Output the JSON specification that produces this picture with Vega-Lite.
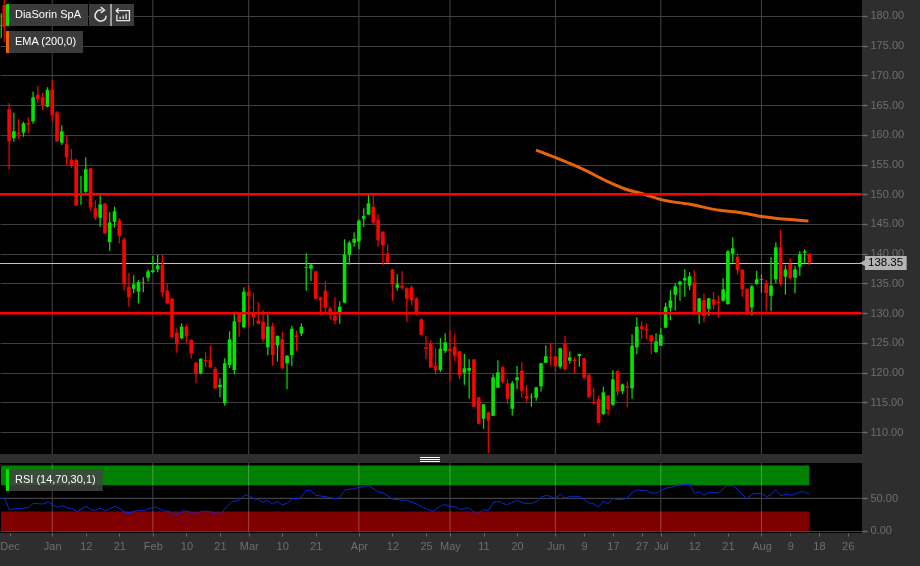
{
"$schema":"https://vega.github.io/schema/vega-lite/v6.json",
"background":"#2e2e2e","padding":{"left":-2,"top":-1,"right":0,"bottom":0},"spacing":9,"bounds":"flush",
"config":{"view":{"stroke":null},"font":"Liberation Sans","concat":{"spacing":9}},
"datasets":{
"months":[{"i":10},{"i":31},{"i":51},{"i":74},{"i":93},{"i":115},{"i":137},{"i":158}],
"levels":[{"i":-0.89,"i2":178.9,"p":150},{"i":-0.89,"i2":178.9,"p":130}],
"last":[{"i":-0.89,"i2":178.9,"p":138.35}],
"tag":[{"i":179.6,"i2":188.3,"p":139.6,"p2":137.26,"pm":138.43,"im":183.9,"it":179.1,"label":"138.35"}],
"boxes":[{"i":0.98,"i2":17.47,"p":182.02,"p2":178.32},{"i":17.67,"i2":27.07,"p":182.02,"p2":178.32},{"i":0.98,"i2":16.42,"p":177.47,"p2":173.77}],
"boxGreen":[{"i":0.35,"i2":0.98,"p":182.02,"p2":178.32}],
"boxOrange":[{"i":0.35,"i2":0.98,"p":177.47,"p2":173.77}],
"captions":[{"i":2.23,"p":180.17,"label":"DiaSorin SpA"},{"i":2.23,"p":175.62,"label":"EMA (200,0)"}],
"divider":[{"i":22.27,"p":182.02,"p2":178.32}],
"iconA":[{"i":20.1,"p":180.05}],
"iconB":[{"i":24.8,"p":180.05}],
"ema":[{"i":110.96,"p":157.45},{"i":114.92,"p":156.22},{"i":120.83,"p":154.2},{"i":125.7,"p":152.23},{"i":130.2,"p":150.72},{"i":133.35,"p":150.05},{"i":136.83,"p":149.15},{"i":143.1,"p":148.31},{"i":149.35,"p":147.3},{"i":152.84,"p":147.02},{"i":158.4,"p":146.23},{"i":163.27,"p":145.79},{"i":167.8,"p":145.5}],
"bandHigh":[{"i":-0.69,"i2":168,"r":100,"r2":70}],
"bandLow":[{"i":-0.69,"i2":168,"r":30,"r2":0}],
"rsiGrid":[{"r":50,"i":-0.89,"i2":178.9}],
"handle":[{"i":86.75,"i2":90.9,"r":112.4},{"i":86.75,"i2":90.9,"r":109.3},{"i":86.75,"i2":90.9,"r":106.3}],
"rsiBox":[{"i":0.98,"i2":20.53,"r":94.3,"r2":61.2}],
"rsiMark":[{"i":0.35,"i2":0.98,"r":94.3,"r2":61.2}],
"rsiCaption":[{"i":2.23,"r":78,"label":"RSI (14,70,30,1)"}],
"rsi":[{"i":-0.7,"r":49.95},{"i":0.15,"r":48.93},{"i":1.05,"r":32.11},{"i":2.23,"r":34.15},{"i":3.28,"r":34.15},{"i":5.02,"r":36.19},{"i":6.06,"r":42.3},{"i":8.15,"r":41.28},{"i":9.19,"r":44.34},{"i":10.93,"r":36.7},{"i":12.11,"r":38.74},{"i":13.36,"r":34.66},{"i":14.06,"r":34.66},{"i":15.24,"r":29.56},{"i":17.05,"r":37.72},{"i":18.23,"r":32.11},{"i":19.07,"r":32.11},{"i":19.97,"r":34.66},{"i":21.08,"r":31.09},{"i":23.1,"r":37.72},{"i":24.14,"r":34.15},{"i":25.19,"r":28.54},{"i":26.23,"r":28.03},{"i":27.62,"r":31.09},{"i":29.36,"r":31.09},{"i":30.06,"r":34.15},{"i":31.8,"r":36.19},{"i":33.19,"r":31.09},{"i":34.23,"r":30.07},{"i":35.62,"r":25.48},{"i":36.32,"r":25.48},{"i":37.22,"r":31.09},{"i":38.75,"r":29.05},{"i":40.14,"r":25.48},{"i":41.18,"r":30.07},{"i":42.58,"r":30.07},{"i":44.66,"r":25.99},{"i":45.36,"r":28.03},{"i":46.4,"r":37.21},{"i":47.59,"r":44.85},{"i":49.05,"r":47.4},{"i":50.23,"r":55.05},{"i":50.93,"r":54.54},{"i":51.97,"r":49.44},{"i":53.01,"r":48.42},{"i":53.92,"r":43.83},{"i":54.96,"r":46.89},{"i":55.93,"r":41.28},{"i":56.98,"r":45.36},{"i":58.02,"r":39.76},{"i":59.06,"r":42.81},{"i":60.11,"r":49.44},{"i":61.71,"r":49.95},{"i":62.96,"r":61.67},{"i":63.79,"r":62.69},{"i":65.04,"r":54.54},{"i":66.92,"r":52.5},{"i":69.01,"r":49.44},{"i":69.92,"r":50.97},{"i":71.1,"r":62.69},{"i":72.14,"r":64.22},{"i":72.98,"r":64.22},{"i":73.88,"r":66.77},{"i":74.92,"r":67.28},{"i":75.97,"r":69.83},{"i":78.05,"r":59.63},{"i":79.1,"r":58.1},{"i":81.04,"r":48.93},{"i":82.58,"r":47.4},{"i":84.11,"r":46.89},{"i":86.05,"r":41.28},{"i":87.44,"r":35.68},{"i":89.53,"r":30.07},{"i":91.27,"r":39.25},{"i":91.97,"r":40.27},{"i":93.01,"r":37.72},{"i":94.05,"r":37.21},{"i":95.1,"r":32.62},{"i":96.84,"r":35.68},{"i":98.23,"r":28.03},{"i":98.93,"r":26.5},{"i":99.97,"r":33.13},{"i":101.01,"r":31.09},{"i":102.06,"r":43.83},{"i":103.1,"r":45.36},{"i":104.84,"r":39.76},{"i":106.58,"r":45.87},{"i":107.27,"r":45.87},{"i":108.66,"r":42.3},{"i":110.06,"r":42.3},{"i":111.24,"r":45.87},{"i":112.14,"r":52.5},{"i":113.32,"r":54.54},{"i":114.92,"r":49.95},{"i":116.11,"r":56.57},{"i":117.01,"r":49.95},{"i":118.06,"r":53.01},{"i":120,"r":53.01},{"i":121.88,"r":43.32},{"i":122.92,"r":41.79},{"i":123.97,"r":36.19},{"i":125.01,"r":45.36},{"i":126.05,"r":41.79},{"i":126.96,"r":49.44},{"i":128.14,"r":47.91},{"i":129.88,"r":49.44},{"i":131.13,"r":59.63},{"i":132.11,"r":62.69},{"i":134.05,"r":61.67},{"i":134.89,"r":58.1},{"i":136.14,"r":58.1},{"i":137.88,"r":65.24},{"i":139.27,"r":67.28},{"i":140.31,"r":69.83},{"i":143.1,"r":71.87},{"i":144,"r":57.08},{"i":145.04,"r":60.14},{"i":146.02,"r":54.54},{"i":147.13,"r":59.12},{"i":149.01,"r":58.1},{"i":150.75,"r":69.32},{"i":152.14,"r":69.32},{"i":154.92,"r":49.44},{"i":156.17,"r":56.57},{"i":158.05,"r":57.59},{"i":159.1,"r":52.5},{"i":159.79,"r":54.54},{"i":160.97,"r":62.69},{"i":162.02,"r":54.03},{"i":163.13,"r":56.57},{"i":164.31,"r":54.54},{"i":166.05,"r":59.63},{"i":166.75,"r":60.14},{"i":168,"r":56.57}],
"candles":[
{"i":-0.63,"o":178.5,"h":180.45,"l":176.25,"c":178.4,"d":"u"},
{"i":0,"o":181.85,"h":182.69,"l":175.67,"c":178.2,"d":"d"},
{"i":1,"o":164.3,"h":165.31,"l":154.2,"c":158.91,"d":"d"},
{"i":2,"o":159.42,"h":163.73,"l":158.85,"c":160.6,"d":"u"},
{"i":3,"o":160.26,"h":162.62,"l":159.25,"c":160.09,"d":"d"},
{"i":4,"o":160.36,"h":162.21,"l":159.69,"c":161.94,"d":"u"},
{"i":5,"o":161.99,"h":162.95,"l":160.26,"c":161.71,"d":"d"},
{"i":6,"o":162.28,"h":167.26,"l":161.88,"c":166.32,"d":"u"},
{"i":7,"o":166.75,"h":168.22,"l":165.31,"c":165.98,"d":"d"},
{"i":8,"o":166.32,"h":167.09,"l":164.18,"c":164.9,"d":"d"},
{"i":9,"o":164.74,"h":168,"l":164.63,"c":167.55,"d":"u"},
{"i":10,"o":167.66,"h":169.23,"l":162.28,"c":163.29,"d":"d"},
{"i":11,"o":163.79,"h":164.01,"l":158.8,"c":158.91,"d":"d"},
{"i":12,"o":158.68,"h":161.61,"l":158.29,"c":160.6,"d":"u"},
{"i":13,"o":158.41,"h":159.81,"l":154.98,"c":156.22,"d":"d"},
{"i":14,"o":155.82,"h":157.62,"l":154.47,"c":154.81,"d":"d"},
{"i":15,"o":155.77,"h":155.98,"l":148.03,"c":148.14,"d":"d"},
{"i":16,"o":149.83,"h":153.07,"l":148.25,"c":150.16,"d":"u"},
{"i":17,"o":150.43,"h":156.22,"l":150.26,"c":154.2,"d":"u"},
{"i":18,"o":154.37,"h":154.37,"l":147.24,"c":147.81,"d":"d"},
{"i":19,"o":147.64,"h":148.98,"l":145.67,"c":146.06,"d":"d"},
{"i":20,"o":146.06,"h":149.83,"l":144.54,"c":148.31,"d":"u"},
{"i":21,"o":148.48,"h":148.48,"l":143.31,"c":143.43,"d":"d"},
{"i":22,"o":141.97,"h":146.97,"l":140.5,"c":145.28,"d":"u"},
{"i":23,"o":145.38,"h":147.91,"l":144.38,"c":147.13,"d":"u"},
{"i":24,"o":145.62,"h":145.96,"l":141.75,"c":142.98,"d":"d"},
{"i":25,"o":142.42,"h":142.76,"l":133.77,"c":134.85,"d":"d"},
{"i":26,"o":134.45,"h":136.8,"l":131.08,"c":132.66,"d":"d"},
{"i":27,"o":134.11,"h":136.36,"l":133.34,"c":134.85,"d":"u"},
{"i":28,"o":133.61,"h":135.57,"l":131.65,"c":135.24,"d":"u"},
{"i":29,"o":135.15,"h":136.03,"l":133.5,"c":135.07,"d":"f"},
{"i":30,"o":135.96,"h":137.37,"l":135.29,"c":137.04,"d":"u"},
{"i":31,"o":136.92,"h":139.61,"l":136.7,"c":137.21,"d":"u"},
{"i":32,"o":137.37,"h":139.78,"l":136.87,"c":138.05,"d":"u"},
{"i":33,"o":138.15,"h":139.78,"l":132.76,"c":133.5,"d":"d"},
{"i":34,"o":133.77,"h":135.02,"l":131.53,"c":131.65,"d":"d"},
{"i":35,"o":132.43,"h":132.55,"l":125.86,"c":125.93,"d":"d"},
{"i":36,"o":126.71,"h":127.45,"l":123.34,"c":124.76,"d":"d"},
{"i":37,"o":125.76,"h":128.29,"l":125.59,"c":127.72,"d":"u"},
{"i":38,"o":127.72,"h":128.12,"l":125.02,"c":126.15,"d":"d"},
{"i":39,"o":125.48,"h":125.59,"l":122.33,"c":123.24,"d":"d"},
{"i":40,"o":121.66,"h":121.78,"l":118.19,"c":119.87,"d":"d"},
{"i":41,"o":119.87,"h":122.4,"l":119.7,"c":122.33,"d":"u"},
{"i":42,"o":122.11,"h":123.41,"l":120.88,"c":121.89,"d":"d"},
{"i":43,"o":122.11,"h":124.47,"l":120.72,"c":120.88,"d":"d"},
{"i":44,"o":120.6,"h":120.99,"l":117.23,"c":117.35,"d":"d"},
{"i":45,"o":117.52,"h":119.03,"l":115.84,"c":117.96,"d":"u"},
{"i":46,"o":114.83,"h":122.4,"l":114.43,"c":121.56,"d":"u"},
{"i":47,"o":121.27,"h":126.94,"l":120.82,"c":125.59,"d":"u"},
{"i":48,"o":120.43,"h":129.97,"l":119.7,"c":128.62,"d":"u"},
{"i":49,"o":129.97,"h":130.24,"l":126.03,"c":128.46,"d":"d"},
{"i":50,"o":127.64,"h":134.35,"l":127.52,"c":133.61,"d":"u"},
{"i":51,"o":133.61,"h":134.73,"l":127.72,"c":132.88,"d":"d"},
{"i":52,"o":129.97,"h":133.34,"l":127.88,"c":129.3,"d":"d"},
{"i":53,"o":128.73,"h":131.82,"l":128.12,"c":128.22,"d":"d"},
{"i":54,"o":128.56,"h":130.53,"l":125.09,"c":125.59,"d":"d"},
{"i":55,"o":124.25,"h":129.73,"l":122.9,"c":127.72,"d":"u"},
{"i":56,"o":127.83,"h":128.39,"l":121.16,"c":122.95,"d":"d"},
{"i":57,"o":124.59,"h":126.27,"l":121.83,"c":126.15,"d":"u"},
{"i":58,"o":125.59,"h":126.87,"l":120.6,"c":120.72,"d":"d"},
{"i":59,"o":121.56,"h":122.9,"l":117.18,"c":122.84,"d":"u"},
{"i":60,"o":122.95,"h":127.88,"l":121.1,"c":127.38,"d":"u"},
{"i":61,"o":126.27,"h":127.04,"l":123.68,"c":125.93,"d":"d"},
{"i":62,"o":126.54,"h":128.29,"l":126.15,"c":127.72,"d":"u"},
{"i":63,"o":137.64,"h":140.07,"l":133.77,"c":137.76,"d":"u"},
{"i":64,"o":137.48,"h":138.27,"l":135.41,"c":138.15,"d":"u"},
{"i":65,"o":137.04,"h":137.09,"l":132.33,"c":132.43,"d":"d"},
{"i":66,"o":132.66,"h":132.76,"l":129.68,"c":132.21,"d":"d"},
{"i":67,"o":133.77,"h":135.36,"l":130.07,"c":130.91,"d":"d"},
{"i":68,"o":130.75,"h":131.08,"l":128.96,"c":129.8,"d":"d"},
{"i":69,"o":129.52,"h":132.66,"l":128.12,"c":128.73,"d":"d"},
{"i":70,"o":130.19,"h":131.99,"l":128.22,"c":131.08,"d":"u"},
{"i":71,"o":131.75,"h":142.42,"l":131.7,"c":139.83,"d":"u"},
{"i":72,"o":139.83,"h":142.19,"l":138.15,"c":141.85,"d":"u"},
{"i":73,"o":141.85,"h":143.6,"l":141.18,"c":142.52,"d":"u"},
{"i":74,"o":142.02,"h":145.79,"l":140.74,"c":145.55,"d":"u"},
{"i":75,"o":145.89,"h":147.64,"l":144.54,"c":146.34,"d":"u"},
{"i":76,"o":146.56,"h":150.05,"l":146.51,"c":148.48,"d":"u"},
{"i":77,"o":147.91,"h":149.83,"l":144.95,"c":145.22,"d":"d"},
{"i":78,"o":145.72,"h":146.63,"l":141.18,"c":142.25,"d":"d"},
{"i":79,"o":143.7,"h":143.77,"l":138.15,"c":141.41,"d":"d"},
{"i":80,"o":140.07,"h":141.58,"l":138.43,"c":138.49,"d":"d"},
{"i":81,"o":137.37,"h":137.42,"l":132.09,"c":134.85,"d":"d"},
{"i":82,"o":134.28,"h":136.53,"l":133.77,"c":134.85,"d":"u"},
{"i":83,"o":134.62,"h":137.04,"l":133.94,"c":134.28,"d":"d"},
{"i":84,"o":134.18,"h":134.35,"l":128.46,"c":132.43,"d":"d"},
{"i":85,"o":134.35,"h":134.68,"l":131.32,"c":132.16,"d":"d"},
{"i":86,"o":132.49,"h":132.66,"l":129.57,"c":129.97,"d":"d"},
{"i":87,"o":128.96,"h":129.13,"l":126.32,"c":126.37,"d":"d"},
{"i":88,"o":124.25,"h":126.2,"l":122.23,"c":123.96,"d":"d"},
{"i":89,"o":124.92,"h":125.43,"l":120.72,"c":120.88,"d":"d"},
{"i":90,"o":121.1,"h":124.08,"l":119.64,"c":120.43,"d":"d"},
{"i":91,"o":120.43,"h":125.82,"l":120.09,"c":124.01,"d":"u"},
{"i":92,"o":123.63,"h":126.61,"l":123.29,"c":125.09,"d":"u"},
{"i":93,"o":124.01,"h":127.16,"l":118.46,"c":123.58,"d":"d"},
{"i":94,"o":124.35,"h":126.49,"l":121.94,"c":122.84,"d":"d"},
{"i":95,"o":123.58,"h":123.63,"l":118.86,"c":119.54,"d":"d"},
{"i":96,"o":119.98,"h":123.12,"l":117.96,"c":120.72,"d":"u"},
{"i":97,"o":120.31,"h":122.23,"l":115.6,"c":120.77,"d":"u"},
{"i":98,"o":122.23,"h":122.28,"l":114.2,"c":114.25,"d":"d"},
{"i":99,"o":115.84,"h":115.89,"l":111.34,"c":111.39,"d":"d"},
{"i":100,"o":112.24,"h":114.71,"l":110.55,"c":114.66,"d":"u"},
{"i":101,"o":113.31,"h":113.36,"l":106.41,"c":111.97,"d":"d"},
{"i":102,"o":112.74,"h":119.7,"l":112.69,"c":119.2,"d":"u"},
{"i":103,"o":117.45,"h":122.06,"l":117.4,"c":120.04,"d":"u"},
{"i":104,"o":120.88,"h":121.1,"l":118.13,"c":118.41,"d":"d"},
{"i":105,"o":118.19,"h":118.86,"l":114.66,"c":115.6,"d":"d"},
{"i":106,"o":113.92,"h":118.58,"l":112.74,"c":118.19,"d":"u"},
{"i":107,"o":118.7,"h":121.1,"l":117.18,"c":119.2,"d":"u"},
{"i":108,"o":120.31,"h":121.73,"l":115.77,"c":116.95,"d":"d"},
{"i":109,"o":116.06,"h":117.91,"l":115.1,"c":115.6,"d":"d"},
{"i":110,"o":115.84,"h":116.51,"l":114.25,"c":115.94,"d":"u"},
{"i":111,"o":115.77,"h":117.62,"l":115.26,"c":117.52,"d":"u"},
{"i":112,"o":117.69,"h":121.66,"l":116.78,"c":121.56,"d":"u"},
{"i":113,"o":121.66,"h":124.59,"l":121.61,"c":122.74,"d":"u"},
{"i":114,"o":122.62,"h":124.92,"l":121.22,"c":122.45,"d":"d"},
{"i":115,"o":122.74,"h":122.79,"l":120.09,"c":121.05,"d":"d"},
{"i":116,"o":120.99,"h":124.18,"l":120.65,"c":124.08,"d":"u"},
{"i":117,"o":124.86,"h":126.15,"l":120.48,"c":120.55,"d":"d"},
{"i":118,"o":122,"h":123.58,"l":121.49,"c":122.57,"d":"u"},
{"i":119,"o":122.16,"h":122.67,"l":119.81,"c":121.89,"d":"d"},
{"i":120,"o":122.79,"h":123.17,"l":120.99,"c":123.12,"d":"u"},
{"i":121,"o":122.4,"h":122.5,"l":118.86,"c":119.13,"d":"d"},
{"i":122,"o":119.64,"h":119.7,"l":115.77,"c":115.84,"d":"d"},
{"i":123,"o":115.05,"h":117.45,"l":114.66,"c":114.88,"d":"d"},
{"i":124,"o":115.5,"h":116.06,"l":111.51,"c":111.56,"d":"d"},
{"i":125,"o":113.02,"h":117.62,"l":112.86,"c":116.68,"d":"u"},
{"i":126,"o":116.1,"h":116.22,"l":112.81,"c":113.82,"d":"d"},
{"i":127,"o":114.59,"h":120.38,"l":114.37,"c":118.86,"d":"u"},
{"i":128,"o":120.21,"h":120.48,"l":116.17,"c":116.78,"d":"d"},
{"i":129,"o":116.84,"h":118.19,"l":116.39,"c":118.02,"d":"u"},
{"i":130,"o":117.69,"h":118.46,"l":114.15,"c":117.45,"d":"d"},
{"i":131,"o":117.35,"h":126.44,"l":115.6,"c":124.52,"d":"u"},
{"i":132,"o":124.25,"h":129.3,"l":123.07,"c":127.72,"d":"u"},
{"i":133,"o":127.78,"h":128.62,"l":125.59,"c":127.28,"d":"d"},
{"i":134,"o":127.38,"h":128.29,"l":125.59,"c":127.11,"d":"d"},
{"i":135,"o":126.27,"h":126.32,"l":123.07,"c":125.26,"d":"d"},
{"i":136,"o":123.46,"h":126.61,"l":123.29,"c":125.26,"d":"u"},
{"i":137,"o":124.52,"h":127.45,"l":124.52,"c":126.37,"d":"u"},
{"i":138,"o":127.55,"h":131.75,"l":127.55,"c":131.08,"d":"u"},
{"i":139,"o":130.91,"h":133.84,"l":128.79,"c":132.16,"d":"u"},
{"i":140,"o":133.1,"h":135.02,"l":130.41,"c":134.51,"d":"u"},
{"i":141,"o":134.78,"h":135.46,"l":132.09,"c":135.29,"d":"u"},
{"i":142,"o":135.52,"h":137.37,"l":132.76,"c":135.91,"d":"u"},
{"i":143,"o":134.62,"h":136.87,"l":133.84,"c":136.2,"d":"u"},
{"i":144,"o":135.19,"h":137.21,"l":129.97,"c":130.24,"d":"d"},
{"i":145,"o":130.07,"h":132.55,"l":128.22,"c":132.49,"d":"u"},
{"i":146,"o":132.16,"h":133.34,"l":128.46,"c":129.52,"d":"d"},
{"i":147,"o":130.75,"h":132.55,"l":129.52,"c":132.49,"d":"u"},
{"i":148,"o":132.33,"h":133.61,"l":130.64,"c":131.42,"d":"d"},
{"i":149,"o":131.92,"h":133,"l":129.23,"c":131.65,"d":"d"},
{"i":150,"o":132.09,"h":135.86,"l":131.92,"c":134.01,"d":"u"},
{"i":151,"o":131.53,"h":140.62,"l":131.42,"c":140.4,"d":"u"},
{"i":152,"o":140,"h":142.76,"l":138.49,"c":140.91,"d":"u"},
{"i":153,"o":139.5,"h":140.07,"l":136.53,"c":137.21,"d":"d"},
{"i":154,"o":137.31,"h":137.37,"l":132.76,"c":134.01,"d":"d"},
{"i":155,"o":134.11,"h":134.18,"l":129.63,"c":130.24,"d":"d"},
{"i":156,"o":130.98,"h":134.78,"l":129.57,"c":134.51,"d":"u"},
{"i":157,"o":134.95,"h":137.09,"l":134.78,"c":135.69,"d":"u"},
{"i":158,"o":135.74,"h":136.53,"l":133.44,"c":135.62,"d":"f"},
{"i":159,"o":135.02,"h":135.57,"l":130.36,"c":133.39,"d":"d"},
{"i":160,"o":132.93,"h":139.39,"l":130.31,"c":134.62,"d":"u"},
{"i":161,"o":135.69,"h":141.92,"l":135.02,"c":141.08,"d":"u"},
{"i":162,"o":141.08,"h":143.99,"l":134.62,"c":134.9,"d":"d"},
{"i":163,"o":136.13,"h":138.05,"l":133.1,"c":137.37,"d":"u"},
{"i":164,"o":138.27,"h":139.23,"l":135.69,"c":135.86,"d":"d"},
{"i":165,"o":135.96,"h":137.98,"l":133.34,"c":137.37,"d":"u"},
{"i":166,"o":137.81,"h":140.4,"l":136.3,"c":139.9,"d":"u"},
{"i":167,"o":140.17,"h":140.74,"l":138.38,"c":140.4,"d":"u"},
{"i":168,"o":140,"h":140.07,"l":138.05,"c":138.49,"d":"d"}
]},
"vconcat":[
{"width":862,"height":454,"view":{"fill":"#000000","stroke":null},
"encoding":{"x":{"field":"i","type":"quantitative","title":null,"axis":null,"scale":{"domain":[-0.897,178.98],"nice":false,"zero":false,"padding":0}}},
"layer":[
{"data":{"name":"months"},"mark":{"type":"rule","color":"#444444","strokeWidth":1},"encoding":{}},
{"data":{"name":"last"},"mark":{"type":"rule","color":"#c4c4c4","strokeWidth":1},"encoding":{"x2":{"field":"i2"},"y":{"field":"p","type":"quantitative","title":null,"scale":{"domain":[106.3,182.69],"nice":false,"zero":false},
 "axis":{"orient":"right","values":[110,115,120,125,130,135,140,145,150,155,160,165,170,175,180],"tickCount":100,"format":".2f","grid":true,"gridColor":"#3f3f3f","gridWidth":1,"domain":false,"tickColor":"#6a6a6a","tickSize":5,"tickWidth":1.5,"labelColor":"#6e6e6e","labelFont":"Liberation Sans","labelFontSize":11,"labelPadding":3,"labelOverlap":false,"minExtent":58,"maxExtent":58}}}},
{"data":{"name":"candles"},"mark":{"type":"rule","strokeWidth":1.2,"clip":true},"encoding":{
 "y":{"field":"h","type":"quantitative","title":null,"scale":{"domain":[106.3,182.69],"nice":false,"zero":false}},"y2":{"field":"l"},
 "color":{"field":"d","type":"nominal","legend":null,"scale":{"domain":["u","d","f"],"range":["#00e600","#ff0000","#8c8c8c"]}}}},
{"data":{"name":"candles"},"mark":{"type":"bar","size":3.6,"clip":true},"encoding":{
 "y":{"field":"o","type":"quantitative","title":null,"scale":{"domain":[106.3,182.69],"nice":false,"zero":false}},"y2":{"field":"c"},
 "color":{"field":"d","type":"nominal","legend":null,"scale":{"domain":["u","d","f"],"range":["#00e600","#ff0000","#8c8c8c"]}}}},
{"data":{"name":"ema"},"mark":{"type":"line","color":"#e8640c","strokeWidth":3,"interpolate":"monotone"},"encoding":{"y":{"field":"p","type":"quantitative","title":null,"scale":{"domain":[106.3,182.69],"nice":false,"zero":false}}}},
{"data":{"name":"levels"},"mark":{"type":"rule","color":"#ff0000","strokeWidth":2.5},"encoding":{"x2":{"field":"i2"},"y":{"field":"p","type":"quantitative","title":null,"scale":{"domain":[106.3,182.69],"nice":false,"zero":false}}}},
{"data":{"name":"tag"},"mark":{"type":"rect","color":"#b4b4b4"},"encoding":{"x2":{"field":"i2"},"y":{"field":"p","type":"quantitative","title":null,"scale":{"domain":[106.3,182.69],"nice":false,"zero":false}},"y2":{"field":"p2"}}},
{"data":{"name":"tag"},"mark":{"type":"point","shape":"triangle-left","filled":true,"color":"#b4b4b4","size":40,"opacity":1},"encoding":{"x":{"field":"it","type":"quantitative","title":null,"scale":{"domain":[-0.897,178.98],"nice":false,"zero":false,"padding":0}},"y":{"field":"pm","type":"quantitative","title":null,"scale":{"domain":[106.3,182.69],"nice":false,"zero":false}}}},
{"data":{"name":"tag"},"mark":{"type":"text","color":"#000000","fontSize":11.5,"font":"Liberation Sans","align":"center","baseline":"middle"},"encoding":{"x":{"field":"im","type":"quantitative","title":null,"scale":{"domain":[-0.897,178.98],"nice":false,"zero":false,"padding":0}},"y":{"field":"pm","type":"quantitative","title":null,"scale":{"domain":[106.3,182.69],"nice":false,"zero":false}},"text":{"field":"label"}}},
{"data":{"name":"boxes"},"mark":{"type":"rect","color":"#3b3b3b"},"encoding":{"x2":{"field":"i2"},"y":{"field":"p","type":"quantitative","title":null,"scale":{"domain":[106.3,182.69],"nice":false,"zero":false}},"y2":{"field":"p2"}}},
{"data":{"name":"boxGreen"},"mark":{"type":"rect","color":"#00e600"},"encoding":{"x2":{"field":"i2"},"y":{"field":"p","type":"quantitative","title":null,"scale":{"domain":[106.3,182.69],"nice":false,"zero":false}},"y2":{"field":"p2"}}},
{"data":{"name":"boxOrange"},"mark":{"type":"rect","color":"#e8640c"},"encoding":{"x2":{"field":"i2"},"y":{"field":"p","type":"quantitative","title":null,"scale":{"domain":[106.3,182.69],"nice":false,"zero":false}},"y2":{"field":"p2"}}},
{"data":{"name":"divider"},"mark":{"type":"rule","color":"#ffffff","strokeWidth":1},"encoding":{"y":{"field":"p","type":"quantitative","title":null,"scale":{"domain":[106.3,182.69],"nice":false,"zero":false}},"y2":{"field":"p2"}}},
{"data":{"name":"captions"},"mark":{"type":"text","color":"#ffffff","fontSize":11,"font":"Liberation Sans","align":"left","baseline":"middle"},"encoding":{"y":{"field":"p","type":"quantitative","title":null,"scale":{"domain":[106.3,182.69],"nice":false,"zero":false}},"text":{"field":"label"}}},
{"data":{"name":"iconA"},"mark":{"type":"point","filled":false,"color":"#e6e6e6","strokeWidth":1.5,"opacity":1,"size":400,"shape":"M0.1,-0.55 A0.55,0.55 0 1 0 0.55,0 M0.02,-0.85 L0.38,-0.55 L0.02,-0.28"},"encoding":{"y":{"field":"p","type":"quantitative","title":null,"scale":{"domain":[106.3,182.69],"nice":false,"zero":false}}}},
{"data":{"name":"iconB"},"mark":{"type":"point","filled":false,"color":"#e6e6e6","strokeWidth":1.3,"opacity":1,"size":400,"shape":"M-0.63,-0.1 L-0.63,0.5 L0.63,0.5 L0.63,-0.5 L-0.7,-0.5 M-0.45,-0.75 L-0.7,-0.5 L-0.45,-0.25 M-0.3,0.32 L-0.3,0.1 M0,0.32 L0,-0.02 M0.3,0.32 L0.3,-0.2"},"encoding":{"y":{"field":"p","type":"quantitative","title":null,"scale":{"domain":[106.3,182.69],"nice":false,"zero":false}}}}
]},
{"width":862,"height":70,"view":{"fill":"#000000","stroke":null},
"encoding":{"x":{"field":"i","type":"quantitative","title":null,"scale":{"domain":[-0.897,178.98],"nice":false,"zero":false,"padding":0},
 "axis":{"values":[1.1,10,17,24,31,38,45,51,58,65,74,81,88,93,100,107,115,121,127,133,137,144,151,158,164,170,176],"tickCount":100,"grid":false,"domain":false,"tickColor":"#6a6a6a","tickSize":3,"labelColor":"#6e6e6e","labelFont":"Liberation Sans","labelFontSize":11,"labelPadding":4,"labelFlush":false,"labelOverlap":false,"minExtent":33,"maxExtent":33,
 "labelExpr":"{'1.1':'Dec','10':'Jan','17':'12','24':'21','31':'Feb','38':'10','45':'21','51':'Mar','58':'10','65':'21','74':'Apr','81':'12','88':'25','93':'May','100':'11','107':'20','115':'Jun','121':'9','127':'17','133':'27','137':'Jul','144':'12','151':'21','158':'Aug','164':'9','170':'18','176':'26'}[''+datum.value]"}}},
"layer":[
{"data":{"name":"months"},"mark":{"type":"rule","color":"#444444","strokeWidth":1},"encoding":{}},
{"data":{"name":"rsiGrid"},"mark":{"type":"rule","color":"#444444","strokeWidth":1},"encoding":{"x2":{"field":"i2"},"y":{"field":"r","type":"quantitative","title":null,"scale":{"domain":[-3.06,103.98],"nice":false,"zero":false},
 "axis":{"orient":"right","values":[0,50],"tickCount":100,"format":".2f","grid":true,"gridColor":"#444444","gridWidth":1,"domain":false,"tickColor":"#6a6a6a","tickSize":5,"tickWidth":1.5,"labelColor":"#6e6e6e","labelFont":"Liberation Sans","labelFontSize":11,"labelPadding":3,"labelOverlap":false,"minExtent":58,"maxExtent":58}}}},
{"data":{"name":"bandHigh"},"mark":{"type":"rect","color":"#008000","blend":"screen"},"encoding":{"x2":{"field":"i2"},"y":{"field":"r","type":"quantitative","title":null,"scale":{"domain":[-3.06,103.98],"nice":false,"zero":false}},"y2":{"field":"r2"}}},
{"data":{"name":"bandLow"},"mark":{"type":"rect","color":"#800000","blend":"screen"},"encoding":{"x2":{"field":"i2"},"y":{"field":"r","type":"quantitative","title":null,"scale":{"domain":[-3.06,103.98],"nice":false,"zero":false}},"y2":{"field":"r2"}}},
{"data":{"name":"rsi"},"mark":{"type":"line","color":"#0a28d8","strokeWidth":1},"encoding":{"y":{"field":"r","type":"quantitative","title":null,"scale":{"domain":[-3.06,103.98],"nice":false,"zero":false}}}},
{"data":{"name":"handle"},"mark":{"type":"rule","color":"#ffffff","strokeWidth":1},"encoding":{"x2":{"field":"i2"},"y":{"field":"r","type":"quantitative","title":null,"scale":{"domain":[-3.06,103.98],"nice":false,"zero":false}}}},
{"data":{"name":"rsiBox"},"mark":{"type":"rect","color":"#444444","opacity":0.85},"encoding":{"x2":{"field":"i2"},"y":{"field":"r","type":"quantitative","title":null,"scale":{"domain":[-3.06,103.98],"nice":false,"zero":false}},"y2":{"field":"r2"}}},
{"data":{"name":"rsiMark"},"mark":{"type":"rect","color":"#00e600"},"encoding":{"x2":{"field":"i2"},"y":{"field":"r","type":"quantitative","title":null,"scale":{"domain":[-3.06,103.98],"nice":false,"zero":false}},"y2":{"field":"r2"}}},
{"data":{"name":"rsiCaption"},"mark":{"type":"text","color":"#ffffff","fontSize":11,"font":"Liberation Sans","align":"left","baseline":"middle"},"encoding":{"y":{"field":"r","type":"quantitative","title":null,"scale":{"domain":[-3.06,103.98],"nice":false,"zero":false}},"text":{"field":"label"}}}
]}
]}
